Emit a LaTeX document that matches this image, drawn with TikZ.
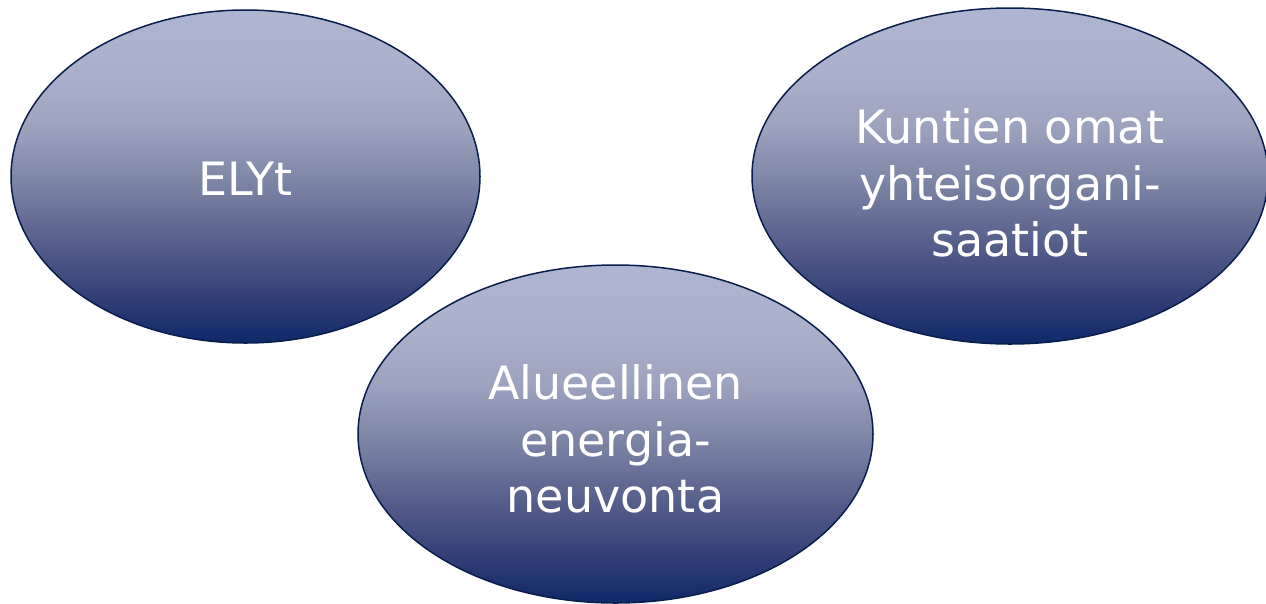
\documentclass[tikz,border=0pt]{standalone}
\usepackage{fontspec}
\setmainfont{DejaVu Sans}
\usetikzlibrary{shapes.geometric}
\definecolor{ellline}{RGB}{10,30,75}
\pgfdeclareverticalshading{blobshade}{100bp}{%
  rgb(0bp)=(0.059,0.157,0.412);
  rgb(25bp)=(0.059,0.157,0.412);
  rgb(32.5bp)=(0.208,0.255,0.471);
  rgb(40bp)=(0.337,0.369,0.545);
  rgb(50bp)=(0.502,0.533,0.659);
  rgb(57.5bp)=(0.616,0.639,0.749);
  rgb(65bp)=(0.667,0.690,0.796);
  rgb(75bp)=(0.682,0.710,0.820);
  rgb(100bp)=(0.682,0.710,0.820)}
\tikzset{
  blob/.style={ellipse, draw=ellline, line width=1.5pt, inner sep=0pt,
    shading=blobshade},
  blobtext/.style={text=white, align=center, inner sep=0pt,
    font=\fontsize{46}{56.5}\selectfont},
}
\begin{document}
\begin{tikzpicture}
\useasboundingbox (0,0) rectangle (1266pt,-603pt);
\node[blob, minimum width=469pt, minimum height=333pt,
  label={[blobtext, yshift=-2pt]center:ELYt}] (ely) at (245.5pt,-176.5pt) {};
\node[blob, minimum width=516pt, minimum height=336pt,
  label={[blobtext, yshift=-7pt]center:{Kuntien omat\\yhteisorgani-\\saatiot}}] (kunt) at (1010pt,-176pt) {};
\node[blob, minimum width=515pt, minimum height=338pt,
  label={[blobtext, yshift=-5pt]center:{Alueellinen\\energia-\\neuvonta}}] (alue) at (615.5pt,-434pt) {};
\end{tikzpicture}
\end{document}
